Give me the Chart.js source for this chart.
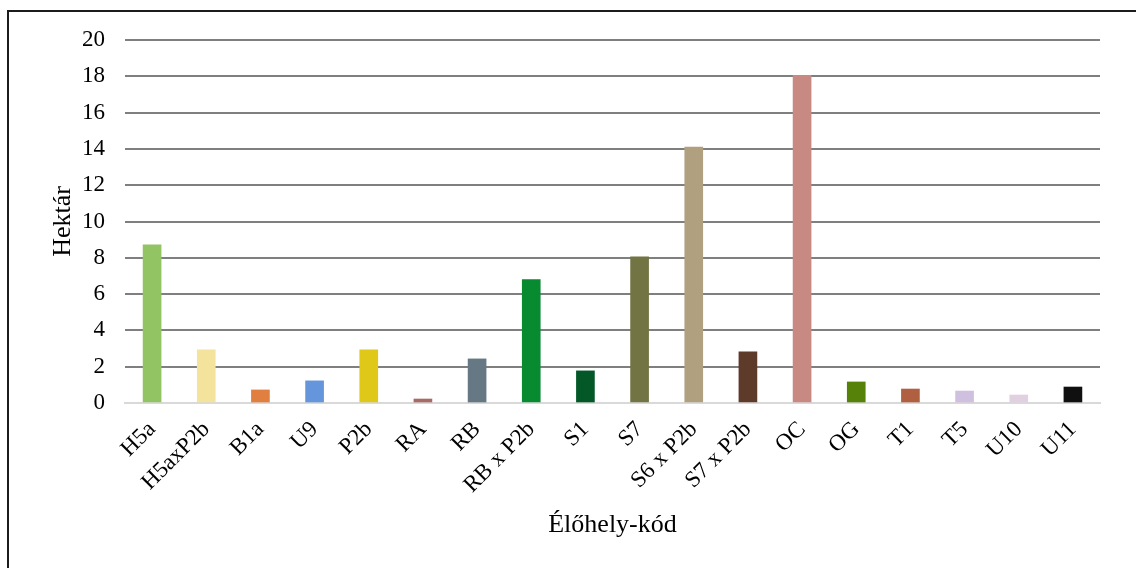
<!DOCTYPE html>
<html>
<head>
<meta charset="utf-8">
<script src="https://cdn.jsdelivr.net/npm/chart.js@4"></script>
<style>
  html, body { margin: 0; padding: 0; background: #fff; overflow: hidden; }
  #wrap { position: relative; width: 1136px; height: 568px; }
  #frame { position: absolute; left: 7px; top: 10px; width: 1200px; height: 600px;
           border: 2px solid #1c1c1c; box-sizing: border-box; pointer-events: none; }
  canvas { position: absolute; left: 0; top: 0; }
</style>
</head>
<body>
<div id="wrap">
  <canvas id="c" width="1136" height="568"></canvas>
  <div id="frame"></div>
</div>
<script>
// Habitat codes along the x axis
const categories = ['H5a', 'H5axP2b', 'B1a', 'U9', 'P2b', 'RA', 'RB', 'RB x P2b', 'S1', 'S7',
  'S6 x P2b', 'S7 x P2b', 'OC', 'OG', 'T1', 'T5', 'U10', 'U11'];

// Area of each habitat (hectares)
const hectares = [8.72, 2.93, 0.72, 1.22, 2.93, 0.22, 2.43, 6.8, 1.77, 8.05,
  14.1, 2.82, 18.05, 1.16, 0.77, 0.66, 0.44, 0.88];

// One fill colour per habitat
const barColors = ['#93C464', '#F4E39C', '#E07F40', '#6595DB', '#E0C818', '#A86A68',
  '#657884', '#088A30', '#045828', '#727444', '#B0A080', '#5D3A2A', '#C98983',
  '#56820A', '#B06040', '#D0C0E0', '#E0D0E0', '#101010'];

const yTicks = [0, 2, 4, 6, 8, 10, 12, 14, 16, 18, 20];
const yTitle = 'Hektár';
const xTitle = 'Élőhely-kód';

const serif = "'Liberation Serif', 'Times New Roman', serif";

new Chart(document.getElementById('c'), {
  type: 'bar',
  data: {
    labels: categories,
    datasets: [{
      data: hectares,
      backgroundColor: barColors,
      borderWidth: 0,
      barThickness: 18
    }]
  },
  options: {
    responsive: false,
    animation: false,
    layout: { padding: { top: 40, right: 36, left: 0, bottom: 0 } },
    plugins: { legend: { display: false }, tooltip: { enabled: false } },
    scales: {
      x: {
        grid: { display: false },
        border: { display: true, color: '#d9d9d9', width: 2 },
        ticks: {
          color: '#000',
          font: { family: serif, size: 23 },
          minRotation: 45,
          maxRotation: 45,
          padding: 5,
          autoSkip: false
        },
        title: {
          display: true,
          text: xTitle,
          color: '#000',
          font: { family: serif, size: 26 },
          padding: { top: 0, bottom: 27 }
        },
        afterFit: (s) => { s.height = 165; }
      },
      y: {
        min: 0,
        max: 20,
        afterBuildTicks: (s) => { s.ticks = yTicks.map(v => ({ value: v })); },
        grid: {
          drawTicks: false,
          lineWidth: 2,
          color: (ctx) => ctx.tick && ctx.tick.value === 0 ? '#d9d9d9' : '#7f7f7f'
        },
        border: { display: false },
        ticks: {
          color: '#000',
          font: { family: serif, size: 23 },
          padding: 20
        },
        title: {
          display: true,
          text: yTitle,
          color: '#000',
          font: { family: serif, size: 26 },
          padding: { top: 48, bottom: 0 }
        },
        afterFit: (s) => { s.width = 125; }
      }
    }
  }
});
</script>
</body>
</html>
